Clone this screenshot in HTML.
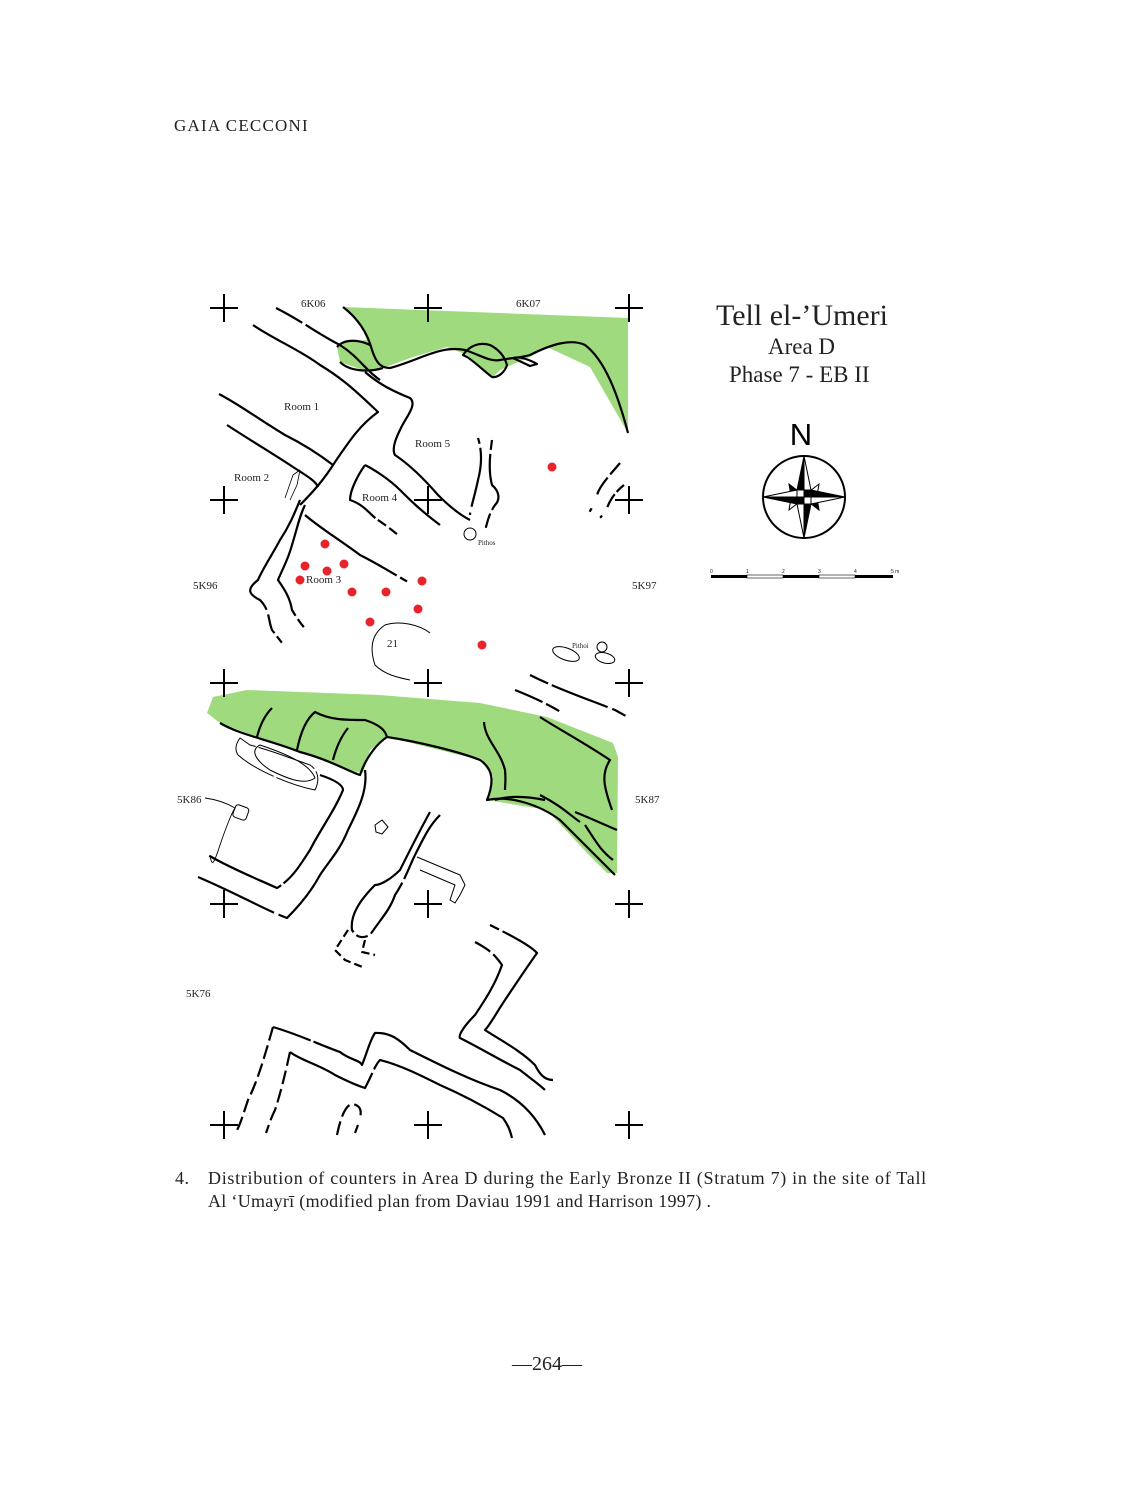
<!DOCTYPE html>
<html><head><meta charset="utf-8"><style>
html,body{margin:0;padding:0;background:#fff;}
body{width:1126px;height:1500px;position:relative;overflow:hidden;font-family:"Liberation Serif",serif;color:#222;}
.t{position:absolute;white-space:nowrap;}
</style></head><body>
<div class="t" style="left:174px;top:116px;font-size:17px;letter-spacing:1.2px;">GAIA CECCONI</div>
<svg width="1126" height="1500" style="position:absolute;left:0;top:0" xmlns="http://www.w3.org/2000/svg">
<g fill="#a0da7e" stroke="none">
<path d="M343,307 L628,318 L628,433 L613,407 L590,367 L547,347 L530,357 L500,370 L493,377 L480,367 L467,355 L447,347 L413,357 L383,368 L363,370 L340,362 L337,347 L347,342 L367,340 L360,323 Z"/>
<path d="M207,713 L213,697 L247,690 L380,695 L480,703 L547,717 L613,743 L618,757 L617,873 L607,873 L587,853 L547,810 L487,800 L493,777 L480,760 L387,737 L370,750 L363,773 L347,770 L297,750 L257,737 L220,723 Z"/>
</g>
<g fill="none" stroke="#000" stroke-width="2.2" stroke-linejoin="round">
<path d="M343,307 C360,320 368,335 372,350 C376,362 380,368 390,368 C420,360 440,345 465,350 C480,355 490,362 500,360 C510,358 520,358 530,355 C550,345 570,338 585,345 C605,360 618,395 628,433"/>
<path d="M337,347 C345,338 360,340 370,345 M340,362 C350,372 370,372 383,368"/>
<path d="M463,355 C470,345 480,342 490,345 C500,350 505,358 507,365 C505,372 498,378 492,377 C485,372 475,362 467,357 Z"/>
<path d="M513,358 C520,356 530,360 537,364 L530,366 Z"/>
<path d="M276,308 C300,320 320,335 340,345 C360,358 365,370 380,380" stroke-dasharray="30,4,200"/>
<path d="M253,325 C275,340 300,350 320,365 C345,380 360,395 378,412 C360,425 350,440 335,462 C325,478 315,490 300,505"/>
<path d="M219,394 C240,405 260,420 285,435 C305,445 320,455 333,465"/>
<path d="M227,425 C250,440 270,452 290,465 C305,475 315,480 318,487"/>
<path d="M365,372 C380,385 395,392 410,398 C418,405 405,418 400,430 C395,440 392,450 395,455 C410,465 425,480 438,495 C448,505 460,515 470,520"/>
<path d="M365,465 C358,475 350,490 350,500 C365,505 370,515 378,520 C390,528 398,535 410,545" stroke-dasharray="70,3,10,4,10"/>
<path d="M365,465 C375,470 390,480 400,490 C410,500 420,510 440,525"/>
<path d="M478,438 C482,450 482,465 478,480 C475,495 470,510 470,515" stroke-dasharray="6,4,60"/>
<path d="M492,440 C490,455 488,470 492,485 C500,492 500,500 495,505 C488,515 487,525 485,530" stroke-dasharray="10,4,60,4,15"/>
<path d="M620,463 C610,475 600,485 597,495 C595,505 590,510 588,515" stroke-dasharray="15,4,20"/>
<path d="M624,485 C615,492 610,500 607,508 C603,512 603,515 600,518" stroke-dasharray="10,3,15"/>
<path d="M300,500 C295,512 290,525 280,540 C272,555 262,570 258,580 C245,590 250,595 260,600 C270,610 268,620 272,630 C280,640 285,648 292,652 C300,655 310,662 317,663" stroke-dasharray="130,5,20,4,8"/>
<path d="M305,505 C300,515 298,525 292,545 C288,560 282,570 278,580 C285,590 290,598 292,610 C298,620 305,630 312,635 C318,640 320,642 322,645" stroke-dasharray="120,4,10"/>
<path d="M305,515 C320,528 340,540 360,555 C380,565 395,575 410,583" stroke-dasharray="110,4,8"/>
<path d="M285,498 L293,475 L300,470 L297,485 L290,500" stroke-width="0.8"/>
<path d="M430,633 C420,625 400,620 385,625 C370,635 370,650 375,665 C385,675 400,678 410,680" stroke-width="1"/>
<circle cx="470" cy="534" r="6" stroke-width="1"/>
<ellipse cx="566" cy="654" rx="14" ry="6" transform="rotate(20 566 654)" stroke-width="1"/>
<ellipse cx="605" cy="658" rx="10" ry="5" transform="rotate(15 605 658)" stroke-width="1"/>
<circle cx="602" cy="647" r="5" stroke-width="1"/>
<path d="M530,675 C560,690 590,700 615,710 L633,720" stroke-dasharray="20,4,60,5,15"/>
<path d="M515,690 C540,700 560,710 575,722" stroke-dasharray="30,4,15"/>
<path d="M220,723 C240,735 270,740 300,752 C330,760 350,772 360,775 C365,760 375,745 387,737 C420,742 460,752 480,760 C495,770 493,785 487,800 C510,795 540,805 560,820 C580,840 600,860 615,875"/>
<path d="M257,737 C260,725 265,715 272,708 M297,750 C300,735 305,720 315,712 C330,720 345,720 365,720 C380,725 385,730 387,737 M333,760 C336,748 340,738 348,728 M484,722 C485,740 500,750 505,770 C506,780 505,785 505,790 M540,717 C560,730 580,740 610,760 C600,775 605,790 612,810 M495,800 C510,795 530,797 545,800 M540,795 C560,805 570,815 580,822 M575,812 C590,818 605,825 617,830 M585,825 C595,840 600,850 613,860"/>
<path d="M240,738 C235,745 235,750 238,755 C255,770 290,785 315,790 C320,780 318,770 310,765 C290,758 270,750 250,745 Z" stroke-width="1" stroke-dasharray="60,3"/>
<path d="M260,745 C250,750 255,760 270,770 C290,780 305,785 315,778 C310,765 290,755 260,745 Z" stroke-width="1"/>
<path d="M320,775 C335,780 343,785 343,790 C335,810 320,830 310,850 C300,865 293,878 277,888 C255,878 230,868 208,855" stroke-dasharray="140,3,80,5,20"/>
<path d="M365,770 C368,790 358,810 348,830 C340,850 330,860 320,875 C312,890 300,905 287,918 C265,910 240,895 198,877" stroke-dasharray="180,5,120,5,20"/>
<path d="M205,798 C220,800 230,805 235,808 C232,812 225,830 220,845 C215,860 212,870 210,855" stroke-width="0.9"/>
<rect x="234" y="806" width="14" height="13" rx="3" transform="rotate(20 241 812)" stroke-width="1"/>
<path d="M375,825 L382,820 L388,827 L382,834 L376,832 Z" stroke-width="1"/>
<path d="M430,812 C420,830 410,850 400,870 C390,880 380,885 375,885 C360,900 350,915 352,930 C355,935 360,940 370,935 C380,920 390,910 395,895 C405,880 410,865 415,855 C425,835 430,825 440,815" stroke-dasharray="150,4,12,4,60,4"/>
<path d="M417,857 L460,875 L465,885 L460,895 L455,903 L450,900 L455,885 L420,870" stroke-width="1"/>
<path d="M348,930 L335,950 L345,960 L365,968 M365,940 L362,952 L375,955" stroke-dasharray="8,4"/>
<path d="M490,925 C510,935 530,945 537,953 C525,970 515,985 505,1000 C495,1015 490,1025 485,1030 C500,1040 520,1050 535,1065 C540,1075 545,1080 553,1080" stroke-dasharray="10,4,250,5,10"/>
<path d="M475,942 C490,950 495,955 502,965 C495,985 485,1000 475,1015 C465,1025 458,1035 460,1038 C480,1048 500,1060 520,1070 C530,1078 540,1085 545,1090" stroke-dasharray="18,4,200,4,10"/>
<path d="M273,1027 C300,1035 320,1045 340,1052 C350,1060 360,1060 362,1065 C368,1050 370,1040 375,1033 C390,1032 400,1040 410,1050 C440,1065 470,1080 500,1090 C520,1100 535,1115 545,1135" stroke-dasharray="40,3,500,5,10"/>
<path d="M290,1052 C300,1060 320,1065 335,1075 C345,1080 355,1085 365,1088 C372,1075 375,1065 380,1060 C400,1065 420,1075 440,1085 C470,1098 490,1110 503,1118 C508,1125 510,1130 512,1138" stroke-dasharray="100,4,300,5,10"/>
<path d="M273,1027 C265,1055 258,1080 248,1100 C243,1115 240,1125 237,1130" stroke-dasharray="14,5"/>
<path d="M290,1052 C285,1075 280,1095 275,1110 C270,1120 268,1128 266,1133" stroke-dasharray="14,5"/>
<path d="M337,1135 C340,1120 345,1105 352,1104 C360,1105 362,1110 360,1118 M355,1133 L358,1125" stroke-dasharray="14,5"/>
</g>
<g stroke="#000" stroke-width="2">
<path d="M210,308h28M224,294v28 M414,308h28M428,294v28 M615,308h28M629,294v28
M210,500h28M224,486v28 M414,500h28M428,486v28 M615,500h28M629,486v28
M210,683h28M224,669v28 M414,683h28M428,669v28 M615,683h28M629,669v28
M210,904h28M224,890v28 M414,904h28M428,890v28 M615,904h28M629,890v28
M210,1125h28M224,1111v28 M414,1125h28M428,1111v28 M615,1125h28M629,1111v28"/>
</g>
<g fill="#e8232a">
<circle cx="552" cy="467" r="4.5"/><circle cx="325" cy="544" r="4.5"/><circle cx="305" cy="566" r="4.5"/><circle cx="327" cy="571" r="4.5"/><circle cx="344" cy="564" r="4.5"/><circle cx="300" cy="580" r="4.5"/><circle cx="352" cy="592" r="4.5"/><circle cx="386" cy="592" r="4.5"/><circle cx="422" cy="581" r="4.5"/><circle cx="418" cy="609" r="4.5"/><circle cx="370" cy="622" r="4.5"/><circle cx="482" cy="645" r="4.5"/>
</g>
<g font-family="Liberation Serif, serif" font-size="11" fill="#222">
<text x="301" y="307">6K06</text><text x="516" y="307">6K07</text>
<text x="284" y="410">Room 1</text><text x="415" y="447">Room 5</text><text x="234" y="481">Room 2</text><text x="362" y="501">Room 4</text><text x="306" y="583">Room 3</text>
<text x="193" y="589">5K96</text><text x="632" y="589">5K97</text><text x="387" y="647">21</text>
<text x="478" y="545" font-size="7">Pithos</text><text x="572" y="648" font-size="7">Pithoi</text>
<text x="177" y="803">5K86</text><text x="635" y="803">5K87</text><text x="186" y="997">5K76</text>
</g>
<text x="801" y="445" font-family="Liberation Sans, sans-serif" font-size="31" text-anchor="middle">N</text>
<g transform="translate(804,497)" stroke="#000" stroke-width="1">
<circle r="41" fill="none" stroke-width="2"/>
<polygon points="-15,-13 -6,-6 -13,-1" fill="#000"/>
<polygon points="15,-13 6,-6 13,-1" fill="#fff"/>
<polygon points="15,13 6,6 13,1" fill="#000"/>
<polygon points="-15,13 -6,6 -13,1" fill="#fff"/>
<polygon points="0,-41 -7,-7 0,-7" fill="#000"/><polygon points="0,-41 7,-7 0,-7" fill="#fff"/>
<polygon points="41,0 7,-7 7,0" fill="#000"/><polygon points="41,0 7,7 7,0" fill="#fff"/>
<polygon points="0,41 7,7 0,7" fill="#000"/><polygon points="0,41 -7,7 0,7" fill="#fff"/>
<polygon points="-41,0 -7,7 -7,0" fill="#000"/><polygon points="-41,0 -7,-7 -7,0" fill="#fff"/>
<rect x="-7" y="-7" width="7" height="7" fill="#fff"/><rect x="0" y="-7" width="7" height="7" fill="#000"/>
<rect x="-7" y="0" width="7" height="7" fill="#000"/><rect x="0" y="0" width="7" height="7" fill="#fff"/>
</g>
<g font-family="Liberation Sans, sans-serif" font-size="5" fill="#222">
<rect x="711" y="575" width="36" height="3" fill="#000"/><rect x="747" y="575" width="36" height="3" fill="#fff" stroke="#000" stroke-width="0.6"/>
<rect x="783" y="575" width="36" height="3" fill="#000"/><rect x="819" y="575" width="36" height="3" fill="#fff" stroke="#000" stroke-width="0.6"/>
<rect x="855" y="575" width="38" height="3" fill="#000"/>
<text x="710" y="573">0</text><text x="746" y="573">1</text><text x="782" y="573">2</text><text x="818" y="573">3</text><text x="854" y="573">4</text><text x="891" y="573">5 m</text>
</g>
</svg>
<div class="t" style="left:716px;top:299px;font-size:30px;">Tell el-’Umeri</div>
<div class="t" style="left:768px;top:334px;font-size:23px;">Area D</div>
<div class="t" style="left:729px;top:362px;font-size:23px;">Phase 7 - EB II</div>
<div class="t" style="left:175px;top:1168px;font-size:18px;letter-spacing:0.5px;">4.</div>
<div class="t" style="left:208px;top:1168px;font-size:18px;letter-spacing:0.7px;">Distribution of counters in Area D during the Early Bronze II (Stratum 7) in the site of Tall</div>
<div class="t" style="left:208px;top:1191px;font-size:18px;letter-spacing:0.3px;">Al ‘Umayrī (modified plan from Daviau 1991 and Harrison 1997) .</div>
<div class="t" style="left:512px;top:1353px;font-size:20px;">—264—</div>
</body></html>
